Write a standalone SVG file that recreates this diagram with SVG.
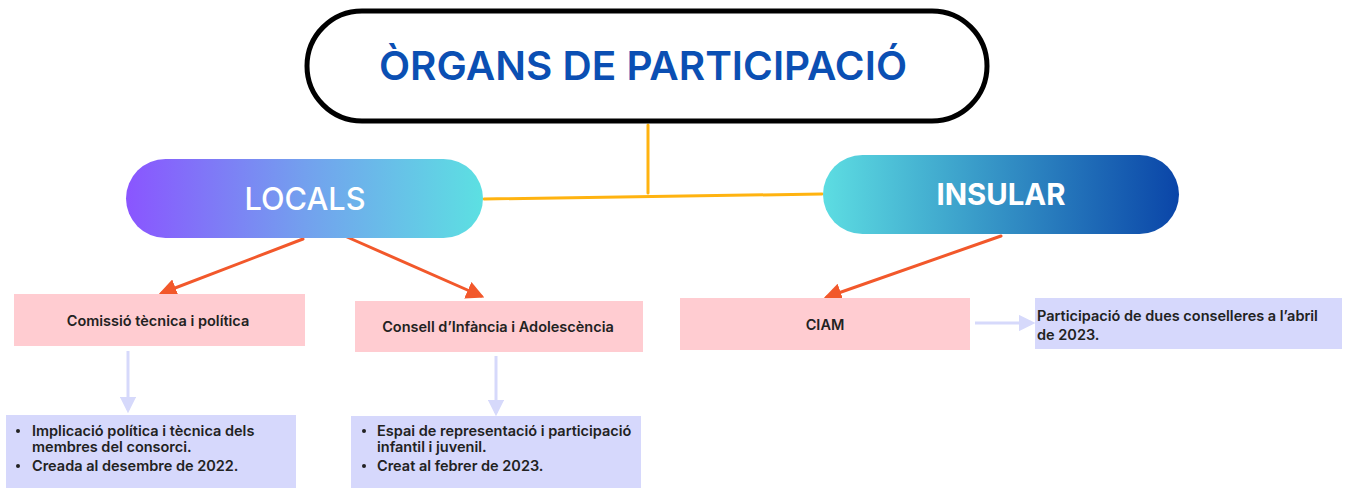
<svg xmlns="http://www.w3.org/2000/svg" width="1349" height="488" viewBox="0 0 1349 488">
<defs>
<linearGradient id="gLocals" x1="0" y1="0" x2="1" y2="0">
<stop offset="0" stop-color="#8a55ff"/>
<stop offset="0.5" stop-color="#73a0ee"/>
<stop offset="1" stop-color="#5ce0e2"/>
</linearGradient>
<linearGradient id="gInsular" x1="0" y1="0" x2="1" y2="0">
<stop offset="0" stop-color="#5ddde2"/>
<stop offset="1" stop-color="#0a45a8"/>
</linearGradient>
<marker id="mOrange" viewBox="0 0 10 10" refX="8" refY="5" markerWidth="6" markerHeight="6" orient="auto" markerUnits="strokeWidth">
<path d="M0,0 L10,5 L0,10 Z" fill="#f2582b"/>
</marker>
<marker id="mLav" viewBox="0 0 10 10" refX="8" refY="5" markerWidth="5.5" markerHeight="5.5" orient="auto" markerUnits="strokeWidth">
<path d="M0,0 L10,5 L0,10 Z" fill="#d6d9fb"/>
</marker>
</defs>
<style>
.pink{fill:#ffccd1}
.lav{fill:#d6d8fc}
.lbl{font-family:Inter,"Noto Sans",sans-serif;font-weight:600;font-size:14.5px;fill:#222222}
.orange{stroke:#f2582b;stroke-width:3;fill:none;stroke-linecap:round}
.lavline{stroke:#d6d9fb;stroke-width:3;fill:none}
.amber{stroke:#ffb310;stroke-width:3;fill:none;stroke-linecap:round}
</style>
<rect width="1349" height="488" fill="#ffffff"/>
<g id="connectors">
<line class="amber" x1="648" y1="125" x2="648" y2="193"/>
<line class="amber" x1="484" y1="199" x2="822" y2="194"/>
<line class="orange" x1="303" y1="239" x2="162" y2="293" marker-end="url(#mOrange)"/>
<line class="orange" x1="347" y1="237" x2="481" y2="296" marker-end="url(#mOrange)"/>
<line class="orange" x1="1001" y1="236" x2="827" y2="297" marker-end="url(#mOrange)"/>
<line class="lavline" x1="128" y1="351" x2="128" y2="410" marker-end="url(#mLav)"/>
<line class="lavline" x1="496" y1="356" x2="496" y2="413" marker-end="url(#mLav)"/>
<line class="lavline" x1="975" y1="323" x2="1032" y2="323" marker-end="url(#mLav)"/>
</g>
<g id="title">
<rect x="307" y="11" width="680" height="110" rx="55" ry="55" fill="#ffffff" stroke="#000000" stroke-width="5"/>
<text x="643" y="80" text-anchor="middle" font-family="Inter,'Noto Sans',sans-serif" font-weight="600" font-size="40" fill="#0b4fb3" textLength="528" lengthAdjust="spacingAndGlyphs">ÒRGANS DE PARTICIPACIÓ</text>
</g>
<g id="locals">
<rect x="126" y="159" width="357" height="79" rx="39.5" fill="url(#gLocals)"/>
<text x="305" y="210" text-anchor="middle" font-family="Inter,'Noto Sans',sans-serif" font-weight="500" font-size="31" fill="#ffffff" textLength="121" lengthAdjust="spacingAndGlyphs">LOCALS</text>
</g>
<g id="insular">
<rect x="823" y="155" width="356" height="79" rx="39.5" fill="url(#gInsular)"/>
<text x="1001" y="205" text-anchor="middle" font-family="Inter,'Noto Sans',sans-serif" font-weight="700" font-size="30" fill="#ffffff" textLength="129" lengthAdjust="spacingAndGlyphs">INSULAR</text>
</g>
<g id="comissio">
<rect class="pink" x="14" y="294" width="291" height="52"/>
<text class="lbl" x="158" y="326" text-anchor="middle">Comissió tècnica i política</text>
</g>
<g id="consell">
<rect class="pink" x="355" y="301" width="288" height="51"/>
<text class="lbl" x="498" y="332" text-anchor="middle">Consell d’Infància i Adolescència</text>
</g>
<g id="ciam">
<rect class="pink" x="680" y="298" width="290" height="52"/>
<text class="lbl" x="825" y="330" text-anchor="middle">CIAM</text>
</g>
<g id="participacio">
<rect class="lav" x="1035" y="298" width="307" height="51"/>
<text class="lbl" x="1037" y="321">Participació de dues conselleres a l’abril</text>
<text class="lbl" x="1037" y="340">de 2023.</text>
</g>
<g id="comissio-detall">
<rect class="lav" x="6" y="415" width="290" height="73"/>
<circle cx="18" cy="431" r="2" fill="#222222"/>
<circle cx="18" cy="466" r="2" fill="#222222"/>
<text class="lbl" x="32" y="436">Implicació política i tècnica dels</text>
<text class="lbl" x="32" y="452">membres del consorci.</text>
<text class="lbl" x="32" y="471">Creada al desembre de 2022.</text>
</g>
<g id="consell-detall">
<rect class="lav" x="351" y="416" width="290" height="72"/>
<circle cx="364" cy="431" r="2" fill="#222222"/>
<circle cx="364" cy="466" r="2" fill="#222222"/>
<text class="lbl" x="377" y="436">Espai de representació i participació</text>
<text class="lbl" x="377" y="452">infantil i juvenil.</text>
<text class="lbl" x="377" y="471">Creat al febrer de 2023.</text>
</g>
</svg>
